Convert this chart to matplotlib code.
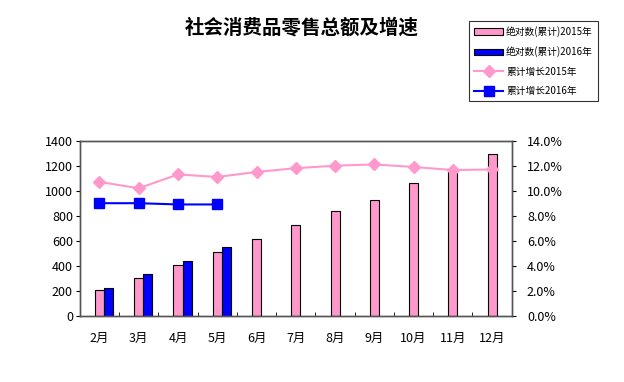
import matplotlib.pyplot as plt
import numpy as np
from matplotlib.ticker import FuncFormatter, MultipleLocator

plt.rcParams['font.family'] = ['Noto Sans CJK SC', 'DejaVu Sans']

months = ['2月', '3月', '4月', '5月', '6月', '7月', '8月', '9月', '10月', '11月', '12月']
total_2015 = [208, 304, 403, 507, 611, 723, 840, 925, 1061, 1165, 1296]
total_2016 = [224, 331, 440, 552]
growth_2015 = [10.7, 10.2, 11.3, 11.1, 11.5, 11.8, 12.0, 12.1, 11.9, 11.65, 11.7]
growth_2016 = [9.0, 9.0, 8.9, 8.9]

pink = '#FF99CC'
blue = '#0000FF'

fig = plt.figure(figsize=(6.24, 3.82), dpi=100)
ax = fig.add_axes([0.128, 0.1735, 0.692, 0.4582])
ax2 = ax.twinx()

x = np.arange(len(months))
x16 = np.arange(len(total_2016))
w = 0.23

b1 = ax.bar(x, total_2015, width=w, color=pink, edgecolor='black', linewidth=0.8,
            label='绝对数(累计)2015年', zorder=2)
b2 = ax.bar(x16 + w, total_2016, width=w, color=blue, edgecolor='black', linewidth=0.8,
            label='绝对数(累计)2016年', zorder=2)

l1, = ax2.plot(x, growth_2015, color=pink, marker='D', markersize=6, linewidth=1.5,
               label='累计增长2015年')
l2, = ax2.plot(x16, growth_2016, color=blue, marker='s', markersize=7, linewidth=1.5,
               label='累计增长2016年')

ax.set_xlim(-0.5, len(months) - 0.5)
ax.set_ylim(0, 1400)
ax.yaxis.set_major_locator(MultipleLocator(200))
ax2.set_ylim(0, 14)
ax2.yaxis.set_major_locator(MultipleLocator(2))
ax2.yaxis.set_major_formatter(FuncFormatter(lambda v, p: f'{v:.1f}%'))

ax.set_xticks(x)
ax.set_xticklabels(months)
ax.set_xticks(np.arange(len(months) + 1) - 0.5, minor=True)
ax.tick_params(axis='x', which='major', length=0, pad=12, labelsize=9)
ax.tick_params(axis='x', which='minor', length=3, direction='in')
ax.tick_params(axis='y', labelsize=9, length=3, direction='out', pad=2)
ax2.tick_params(axis='y', labelsize=9, length=3, direction='out', pad=8)

for a in (ax, ax2):
    for s in a.spines.values():
        s.set_color('#555555')
        s.set_linewidth(1)

fig.text(0.483, 0.928, '社会消费品零售总额及增速', ha='center', va='center',
         fontsize=14, fontweight='bold')

leg = fig.legend(handles=[b1, b2, l1, l2], loc='upper left',
                 bbox_to_anchor=(0.751, 0.945), fontsize=7, frameon=True,
                 fancybox=False, edgecolor='black', labelspacing=0.95,
                 handlelength=3, handletextpad=0.3, borderpad=0.55,
                 borderaxespad=0)
leg.get_frame().set_linewidth(0.8)

fig.savefig('out.png', dpi=100)
